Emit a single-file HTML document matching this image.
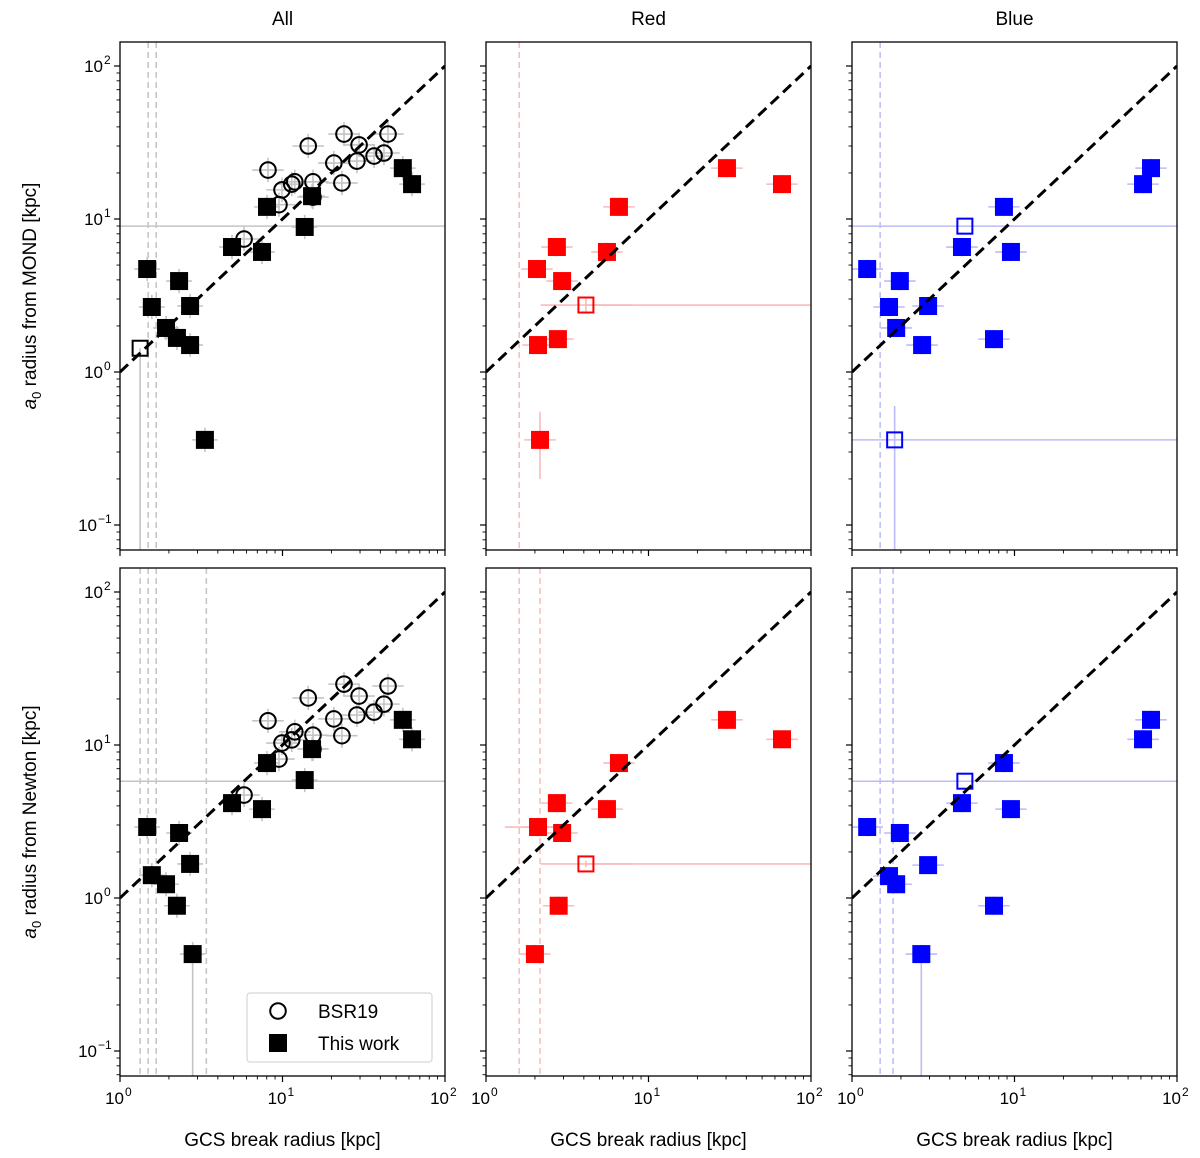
<!DOCTYPE html>
<html><head><meta charset="utf-8"><style>
body{margin:0;background:#fff}
svg{display:block;font-family:"Liberation Sans","DejaVu Sans",sans-serif}
</style></head><body>
<svg id="fig" width="1200" height="1158" viewBox="0 0 1200 1158" xmlns="http://www.w3.org/2000/svg"></svg>
<script>
// ---- data ----
const sqAllTopX=[1.47,1.57,2.31,2.70,1.92,2.24,2.70,3.33,4.89,7.48,8.03,13.7,15.2,55,62.7];
const sqAllTopY=[4.71,2.66,3.93,2.70,1.94,1.67,1.50,0.36,6.56,6.09,12.0,8.87,14.1,21.5,16.9];
const sqAllBotX=[1.47,1.57,2.31,2.70,1.92,2.24,2.80,4.89,7.48,8.03,13.7,15.2,55,62.7];
const sqAllBotY=[2.91,1.41,2.66,1.67,1.23,0.89,0.43,4.17,3.81,7.62,5.9,9.4,14.6,10.9];
const openAllTopX=[1.33], openAllTopY=[1.43];
const circTopX=[8.14,14.4,23.9,29.6,44.6,42.1,36.6,28.7,20.7,23.2,15.4,11.9,11.4,9.93,15.4,9.51,5.80];
const circTopY=[20.9,30.0,35.9,30.5,35.9,27.0,25.8,23.9,23.2,17.2,17.5,17.5,16.9,15.5,13.9,12.4,7.40];
const circBotX=[8.14,14.4,23.9,29.6,44.6,42.1,36.6,28.7,20.7,23.2,15.4,11.9,11.4,9.93,15.4,9.51,5.80];
const circBotY=[14.4,20.3,25.0,20.9,24.3,18.5,16.4,15.7,14.8,11.5,11.6,12.2,10.8,10.3,9.42,8.09,4.71];
const redTopX=[2.06,2.09,2.15,2.73,2.77,2.94,5.55,6.58,30.4,66.3];
const redTopY=[4.71,1.50,0.36,6.56,1.64,3.93,6.09,12.0,21.5,16.9];
const redOpenTopX=[4.12], redOpenTopY=[2.74];
const redBotX=[2.09,2.0,2.73,2.80,2.94,5.55,6.58,30.4,66.3];
const redBotY=[2.91,0.43,4.17,0.89,2.66,3.81,7.62,14.6,10.9];
const redOpenBotX=[4.12], redOpenBotY=[1.67];
const blueTopX=[1.24,1.69,1.87,1.97,2.94,2.70,4.75,8.61,7.48,9.51,61.8,69.2];
const blueTopY=[4.71,2.66,1.94,3.93,2.70,1.50,6.56,12.0,1.64,6.09,16.9,21.5];
const blueOpenTopX=[4.95,1.83], blueOpenTopY=[8.98,0.36];
const blueBotX=[1.24,1.69,1.87,1.97,2.94,2.67,4.75,8.61,7.48,9.51,61.8,69.2];
const blueBotY=[2.91,1.39,1.23,2.66,1.64,0.43,4.17,7.62,0.89,3.81,10.9,14.6];
const blueOpenBotX=[4.95], blueOpenBotY=[5.8];
const xTickExp=["0","1","2"];
const yTickExp=["2","1","0","\u22121"];

const NS="http://www.w3.org/2000/svg";
const svg=document.getElementById('fig');
function el(tag,attrs,parent){const e=document.createElementNS(NS,tag);for(const k in attrs)e.setAttribute(k,attrs[k]);(parent||svg).appendChild(e);return e;}

const colsX=[120,486,852], W=325;
const rows=[{top:42,y100:66},{top:568,y100:592}];
const H=508, DEC=153, XDEC=162.5;
function panel(c,r){
  const x0=colsX[c], R=rows[r];
  return {x0,top:R.top,
    sx:v=>x0+Math.log10(v)*XDEC,
    sy:v=>R.y100+(2-Math.log10(v))*DEC};
}
function clipFor(p,id){const cp=el('clipPath',{id});el('rect',{x:p.x0,y:p.top,width:W,height:H},cp);return 'url(#'+id+')';}

function axes(p,c,r){
  const g=el('g',{});
  
  
  for(let d=0;d<=2;d++){for(let m=1;m<=9;m++){const v=Math.pow(10,d)*m;if(v>100)break;const x=p.sx(v);const len=m==1?6:3.5;
    el('line',{x1:x,x2:x,y1:p.top+H,y2:p.top+H+len,stroke:'#000','stroke-width':m==1?1.2:0.9},g);}}
  for(let d=-2;d<=2;d++){for(let m=1;m<=9;m++){const v=Math.pow(10,d)*m;const y=p.sy(v);if(y<p.top||y>p.top+H)continue;const len=m==1?6:3.5;
    el('line',{x1:p.x0,x2:p.x0-len,y1:y,y2:y,stroke:'#000','stroke-width':m==1?1.2:0.9},g);}}
  el('rect',{x:p.x0,y:p.top,width:W,height:H,fill:'none',stroke:'#000','stroke-width':1.3},g);
  if(r==1){for(let i=0;i<3;i++){const x=p.sx(Math.pow(10,i));
      const t=el('text',{x:x+4,y:p.top+H+28,'font-size':17,'text-anchor':'end'},g);
      
      t.textContent='10';
      const s=el('text',{x:x+5,y:p.top+H+20,'font-size':12},g);s.textContent=xTickExp[i];}
    const xl=el('text',{x:p.x0+W/2,y:1146,'font-size':19,'text-anchor':'middle'});
    
    xl.textContent='GCS break radius [kpc]';}
  if(c==0){for(let i=0;i<4;i++){const v=Math.pow(10,2-i);const y=p.sy(v);
      const ex=yTickExp[i];const ew=ex.length>1?13:7;
      const t=el('text',{x:p.x0-10-ew,y:y+6,'font-size':17,'text-anchor':'end'},g);
      
      t.textContent='10';
      const s=el('text',{x:p.x0-9-ew,y:y-2,'font-size':12},g);s.textContent=ex;}
  }
}
function vdash(p,v,col,clip){el('line',{x1:p.sx(v),x2:p.sx(v),y1:p.top,y2:p.top+H,stroke:col,'stroke-width':1.5,'stroke-dasharray':'6,4','clip-path':clip});}
function hline(p,y,col,clip){el('line',{x1:p.x0,x2:p.x0+W,y1:p.sy(y),y2:p.sy(y),stroke:col,'stroke-width':1.5,'clip-path':clip});}
function errs(p,X,Y,col,clip,fx,fy){for(let i=0;i<X.length;i++){const x=p.sx(X[i]),y=p.sy(Y[i]);
  el('line',{x1:p.sx(X[i]/fx),x2:p.sx(X[i]*fx),y1:y,y2:y,stroke:col,'stroke-width':1.6,'clip-path':clip});
  el('line',{x1:x,x2:x,y1:p.sy(Y[i]/fy),y2:p.sy(Y[i]*fy),stroke:col,'stroke-width':1.6,'clip-path':clip});}}
function squares(p,X,Y,col,open,name,clip){for(let i=0;i<X.length;i++){const s=open?15:18;
  const r=el('rect',{x:p.sx(X[i])-s/2,y:p.sy(Y[i])-s/2,width:s,height:s,fill:open?'none':col,stroke:col,'stroke-width':open?2:0,'clip-path':clip});
  }}
function circles(p,X,Y,name,clip){for(let i=0;i<X.length;i++){
  const c=el('circle',{cx:p.sx(X[i]),cy:p.sy(Y[i]),r:7.8,fill:'none',stroke:'#000','stroke-width':2,'clip-path':clip});
  }}
function oneToOne(p,clip){const l=el('line',{x1:p.sx(1),y1:p.sy(1),x2:p.sx(100),y2:p.sy(100),stroke:'#000','stroke-width':3,'stroke-dasharray':'11,6','clip-path':clip});
  }

const GR='#c4c4c4', RL='#f8bcbc', BL='#bcbcf8';
let p=panel(0,0),cl=clipFor(p,'c00');
vdash(p,1.49,GR,cl);vdash(p,1.67,GR,cl);hline(p,8.98,GR,cl);
el('line',{x1:p.sx(1.33),x2:p.sx(1.33),y1:p.sy(1.43),y2:p.top+H,stroke:GR,'stroke-width':1.6});
errs(p,circTopX,circTopY,GR,cl,1.25,1.2);errs(p,sqAllTopX,sqAllTopY,GR,cl,1.2,1.2);
circles(p,circTopX,circTopY,'bsr19-point',cl);squares(p,sqAllTopX,sqAllTopY,'#000',false,'this-work-point',cl);
squares(p,openAllTopX,openAllTopY,'#000',true,'open-square-point',cl);oneToOne(p,cl);axes(p,0,0);
p=panel(0,1);cl=clipFor(p,'c01');
[1.33,1.49,1.67,3.4].forEach(v=>vdash(p,v,GR,cl));hline(p,5.8,GR,cl);
el('line',{x1:p.sx(2.8),x2:p.sx(2.8),y1:p.sy(0.43),y2:p.top+H,stroke:GR,'stroke-width':1.6});
errs(p,circBotX,circBotY,GR,cl,1.25,1.2);errs(p,sqAllBotX,sqAllBotY,GR,cl,1.2,1.2);
circles(p,circBotX,circBotY,'bsr19-point',cl);squares(p,sqAllBotX,sqAllBotY,'#000',false,'this-work-point',cl);oneToOne(p,cl);axes(p,0,1);
p=panel(1,0);cl=clipFor(p,'c10');
vdash(p,1.6,RL,cl);
el('line',{x1:p.sx(4.12),x2:p.x0+W,y1:p.sy(2.74),y2:p.sy(2.74),stroke:RL,'stroke-width':1.6});
el('line',{x1:p.sx(2.15),x2:p.sx(2.15),y1:p.sy(0.2),y2:p.sy(0.55),stroke:RL,'stroke-width':1.6});
errs(p,redTopX,redTopY,RL,cl,1.25,1.15);errs(p,[4.12],[2.74],RL,cl,1.9,1.1);
squares(p,redTopX,redTopY,'#ff0000',false,'red-point',cl);squares(p,redOpenTopX,redOpenTopY,'#ff0000',true,'red-open-point',cl);oneToOne(p,cl);axes(p,1,0);
p=panel(1,1);cl=clipFor(p,'c11');
vdash(p,1.6,RL,cl);vdash(p,2.15,RL,cl);
el('line',{x1:p.sx(4.12),x2:p.x0+W,y1:p.sy(1.67),y2:p.sy(1.67),stroke:RL,'stroke-width':1.6});
errs(p,redBotX,redBotY,RL,cl,1.25,1.15);errs(p,[2.09],[2.91],RL,cl,1.6,1.05);errs(p,[4.12],[1.67],RL,cl,1.9,1.05);
squares(p,redBotX,redBotY,'#ff0000',false,'red-point',cl);squares(p,redOpenBotX,redOpenBotY,'#ff0000',true,'red-open-point',cl);oneToOne(p,cl);axes(p,1,1);
p=panel(2,0);cl=clipFor(p,'c20');
vdash(p,1.49,BL,cl);hline(p,8.98,BL,cl);hline(p,0.36,BL,cl);
el('line',{x1:p.sx(1.83),x2:p.sx(1.83),y1:p.sy(0.6),y2:p.top+H,stroke:BL,'stroke-width':1.6});
errs(p,blueTopX,blueTopY,BL,cl,1.25,1.15);
squares(p,blueTopX,blueTopY,'#0000ff',false,'blue-point',cl);squares(p,blueOpenTopX,blueOpenTopY,'#0000ff',true,'blue-open-point',cl);oneToOne(p,cl);axes(p,2,0);
p=panel(2,1);cl=clipFor(p,'c21');
vdash(p,1.49,BL,cl);vdash(p,1.79,BL,cl);hline(p,5.8,BL,cl);
el('line',{x1:p.sx(2.67),x2:p.sx(2.67),y1:p.sy(0.43),y2:p.top+H,stroke:BL,'stroke-width':1.6});
errs(p,blueBotX,blueBotY,BL,cl,1.25,1.15);
squares(p,blueBotX,blueBotY,'#0000ff',false,'blue-point',cl);squares(p,blueOpenBotX,blueOpenBotY,'#0000ff',true,'blue-open-point',cl);oneToOne(p,cl);axes(p,2,1);

const titles=["All","Red","Blue"];
titles.forEach((t,i)=>{const e=el('text',{x:colsX[i]+W/2,y:25,'font-size':19,'text-anchor':'middle'});
  e.textContent=t;});
[[296,'MOND'],[822,'Newton']].forEach(([cy,w])=>{
  const e=el('text',{x:0,y:0,'font-size':19,'text-anchor':'middle',transform:'translate(36,'+cy+') rotate(-90)'});
  
  const a=el('tspan',{'font-style':'italic'},e);a.textContent='a';
  const s=el('tspan',{'font-size':13,dy:5},e);s.textContent='0';
  const r=el('tspan',{dy:-5},e);r.textContent=' radius from '+w+' [kpc]';});
const lg=el('g',{});
el('rect',{x:247,y:993,width:185,height:69,rx:3,fill:'#fff','fill-opacity':0.85,stroke:'#d6d6d6','stroke-width':1.2},lg);
el('circle',{cx:278,cy:1011,r:7.8,fill:'none',stroke:'#000','stroke-width':2},lg);
el('rect',{x:269,y:1034,width:18,height:18,fill:'#000'},lg);
const t1=el('text',{x:318,y:1018,'font-size':19},lg);t1.textContent='BSR19';
const t2=el('text',{x:318,y:1050,'font-size':19},lg);t2.textContent='This work';
</script>
</body></html>
